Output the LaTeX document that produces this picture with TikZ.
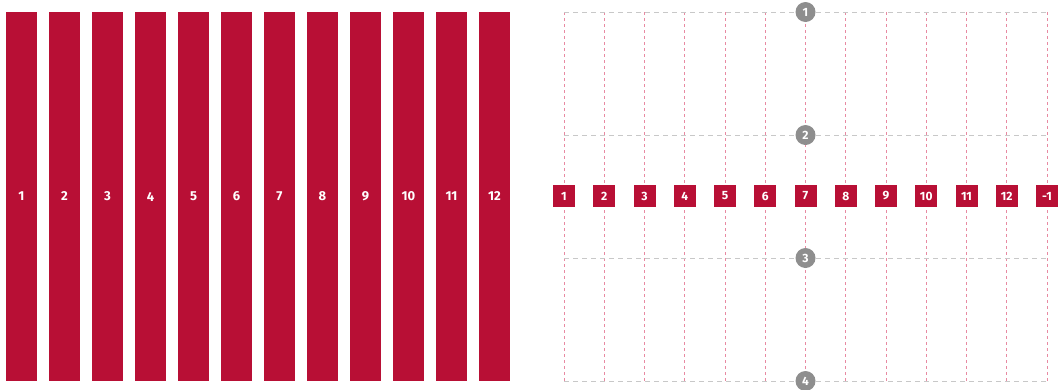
\documentclass[tikz,border=0pt]{standalone}
\usepackage{fontspec}
\setmainfont{Fira Sans}
\definecolor{crim}{HTML}{B80F35}
\definecolor{pinkline}{HTML}{E88AA2}
\definecolor{grayline}{HTML}{C8C8C8}
\definecolor{dotgray}{HTML}{8E8E8E}
\begin{document}
\begin{tikzpicture}[x=1pt,y=-1pt,
  colbox/.style={fill=crim,draw=none,minimum width=31pt,minimum height=369pt,inner sep=0pt,
     text=white,font=\fontsize{13}{13}\selectfont\bfseries},
  sqbox/.style={fill=crim,draw=none,minimum size=22pt,inner sep=0pt,
     text=white,font=\fontsize{12}{12}\selectfont\bfseries},
  rowdot/.style={circle,fill=dotgray,draw=none,minimum size=20pt,inner sep=0pt,
     text=white,font=\fontsize{12}{12}\selectfont\bfseries},
  vline/.style={draw=pinkline,line width=1pt,dash pattern=on 3pt off 3pt},
  hline/.style={draw=grayline,line width=1pt,dash pattern=on 5pt off 4pt}]
\useasboundingbox (0,0) rectangle (1063,389);
% left columns
\foreach \i in {1,...,12}{
  \node[colbox] (c\i) at ({21.5+43*(\i-1)},196.5) {\i};
}
% right grid
\foreach \i in {1,...,13}{
  \coordinate (t\i) at ({564+40.25*(\i-1)},12);
  \coordinate (b\i) at ({564+40.25*(\i-1)},381);
  \draw[vline] (t\i) -- (b\i);
}
\foreach \j/\y in {1/12,2/135,3/258,4/381}{
  \coordinate (l\j) at (564,\y);
  \coordinate (r\j) at (1047,\y);
  \draw[hline] (l\j) -- (r\j);
}
\foreach \j/\y in {1/12,2/135,3/258,4/381}{
  \node[rowdot] (d\j) at (805.5,\y) {\j};
}
\foreach \i in {1,...,12}{
  \node[sqbox] (s\i) at ({564+40.25*(\i-1)},196) {\i};
}
\node[sqbox] (s13) at (1047,196) {-1};
\end{tikzpicture}
\end{document}
